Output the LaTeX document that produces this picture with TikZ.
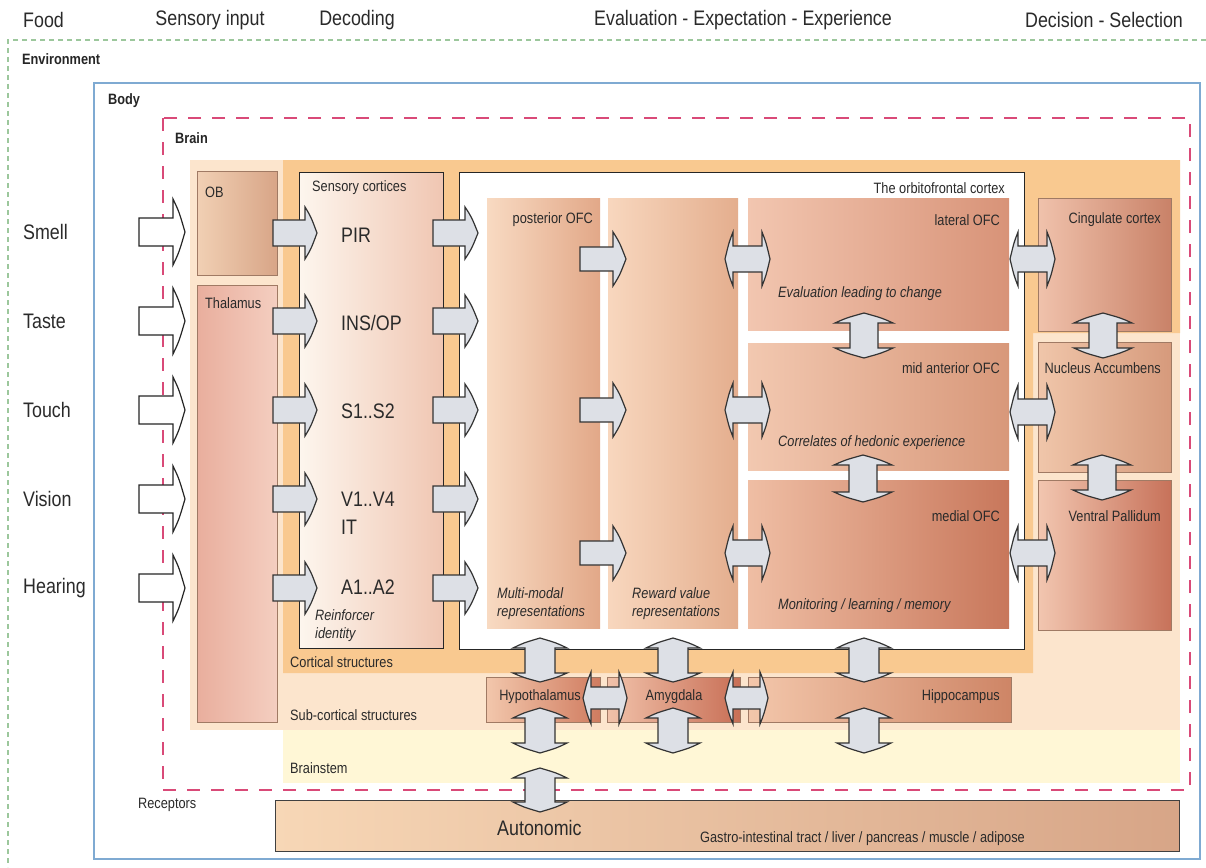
\documentclass[tikz,border=0pt]{standalone}
\usepackage{fontspec}
\setmainfont{Liberation Sans}[FakeStretch=0.85]
\definecolor{envgreen}{HTML}{9CC79C}
\definecolor{bodyblue}{HTML}{7FAAD2}
\definecolor{brainred}{HTML}{D94A78}
\definecolor{subc}{HTML}{FCE5CD}
\definecolor{cort}{HTML}{F9C990}
\definecolor{bstem}{HTML}{FFF7D6}
\definecolor{arrowfill}{HTML}{DDE0E6}
\definecolor{arrowline}{HTML}{333333}
\definecolor{txt}{HTML}{2A2A2A}
\definecolor{boxline}{HTML}{A07A64}
\definecolor{obL}{HTML}{F1D0B4}\definecolor{obR}{HTML}{D8A587}
\definecolor{thL}{HTML}{E9AE9D}\definecolor{thR}{HTML}{F4CEC0}
\definecolor{seL}{HTML}{FDF6EE}\definecolor{seR}{HTML}{F0C6B2}
\definecolor{poL}{HTML}{F8DAC2}\definecolor{poR}{HTML}{E2A888}
\definecolor{rwL}{HTML}{F8D7BE}\definecolor{rwR}{HTML}{E4AE8E}
\definecolor{laL}{HTML}{F2C6B0}\definecolor{laR}{HTML}{D89378}
\definecolor{miL}{HTML}{F2C8B0}\definecolor{miR}{HTML}{D8987A}
\definecolor{meL}{HTML}{EFBEA4}\definecolor{meR}{HTML}{C8775B}
\definecolor{ciL}{HTML}{F0C2AC}\definecolor{ciR}{HTML}{C98268}
\definecolor{naL}{HTML}{F0C6AA}\definecolor{naR}{HTML}{D69A7C}
\definecolor{vpL}{HTML}{F2C6B0}\definecolor{vpR}{HTML}{C7725A}
\definecolor{hyL}{HTML}{F2C7AC}\definecolor{hyR}{HTML}{D07C60}
\definecolor{amL}{HTML}{F1C2AA}\definecolor{amR}{HTML}{C86F56}
\definecolor{hiL}{HTML}{F3C7AB}\definecolor{hiR}{HTML}{CE8566}
\definecolor{auL}{HTML}{F7D7B6}\definecolor{auR}{HTML}{D7A587}
\newcommand\ArrR[7]{% style, x start, x head base, x tip, y centre, shaft half, head half
  \draw[#1] (#2,{#5-#6}) -- (#3,{#5-#6}) -- (#3,{#5-#7})
    .. controls ({#3+0.5*(#4-#3)},{#5-0.62*#7}) .. (#4,#5)
    .. controls ({#3+0.5*(#4-#3)},{#5+0.62*#7}) .. (#3,{#5+#7})
    -- (#3,{#5+#6}) -- (#2,{#5+#6}) -- cycle;}
\newcommand\ArrLR[8]{% style, left tip, left base, right base, right tip, y, shaft half, head half
  \draw[#1] (#3,{#6-#7}) -- (#4,{#6-#7}) -- (#4,{#6-#8})
    .. controls ({#4+0.5*(#5-#4)},{#6-0.62*#8}) .. (#5,#6)
    .. controls ({#4+0.5*(#5-#4)},{#6+0.62*#8}) .. (#4,{#6+#8})
    -- (#4,{#6+#7}) -- (#3,{#6+#7}) -- (#3,{#6+#8})
    .. controls ({#3-0.5*(#3-#2)},{#6+0.62*#8}) .. (#2,#6)
    .. controls ({#3-0.5*(#3-#2)},{#6-0.62*#8}) .. (#3,{#6-#8}) -- cycle;}
\newcommand\ArrUD[8]{% style, x, top tip, top base, bottom base, bottom tip, shaft half, head half
  \draw[#1] ({#2-#7},#4) -- ({#2-#7},#5) -- ({#2-#8},#5)
    .. controls ({#2-0.62*#8},{#5+0.5*(#6-#5)}) .. (#2,#6)
    .. controls ({#2+0.62*#8},{#5+0.5*(#6-#5)}) .. ({#2+#8},#5)
    -- ({#2+#7},#5) -- ({#2+#7},#4) -- ({#2+#8},#4)
    .. controls ({#2+0.62*#8},{#4-0.5*(#4-#3)}) .. (#2,#3)
    .. controls ({#2-0.62*#8},{#4-0.5*(#4-#3)}) .. ({#2-#8},#4) -- cycle;}
\tikzset{
  box/.style={anchor=north west, inner sep=0pt, outer sep=0pt, line width=0.6pt},
  shadetwo/.style 2 args={left color=#1, right color=#2},
  garrow/.style={fill=arrowfill, draw=arrowline, line width=1.2pt, line join=miter},
  warrow/.style={fill=white, draw=black!85, line width=1.2pt, line join=miter},
  big/.style={inner sep=0pt, font=\fontsize{21}{25}\selectfont, text=txt},
  small/.style={inner sep=0pt, font=\fontsize{15}{18}\selectfont, text=txt},
  ital/.style={inner sep=0pt, font=\fontsize{15}{18}\selectfont\itshape, text=txt, align=left},
  bold/.style={inner sep=0pt, font=\fontsize{15}{18}\selectfont\bfseries, text=black!85},
}
\begin{document}
\begin{tikzpicture}[x=1pt,y=-1pt]
\useasboundingbox (0,0) rectangle (1206,867);
\fill[white] (0,0) rectangle (1206,867);
% headers
\node[big, anchor=west] (hfood) at (23,20) {Food};
\node[big] (hsens) at (210,20) {Sensory input};
\node[big] (hdec) at (357,20) {Decoding};
\node[big] (heval) at (743,20) {Evaluation - Expectation - Experience};
\node[big] (hdeci) at (1104,20) {Decision - Selection};
% environment / body / brain
\draw[envgreen, line width=1.1pt, dash pattern=on 5pt off 4pt] (1206,40) -- (8,40) -- (8,867);
\node[bold, anchor=west] (lenv) at (22,59) {Environment};
\draw[bodyblue, line width=1.6pt] (94,83) rectangle (1200,859);
\node[bold, anchor=west] (lbody) at (108,101) {Body};
% regions
\fill[subc] (190,160) rectangle (1180,730);
\fill[bstem] (283,730) rectangle (1180,783);
\fill[cort] (283,160) -- (1180,160) -- (1180,333) -- (1033,333) -- (1033,673) -- (283,673) -- cycle;
\draw[brainred, line width=1.5pt, dash pattern=on 13pt off 11pt] (163,118) rectangle (1190,790);
\node[bold, anchor=west] (lbrain) at (175,138) {Brain};
\node[small, anchor=west] (lcort) at (290,662) {Cortical structures};
\node[small, anchor=west] (lsubc) at (290,715) {Sub-cortical structures};
\node[small, anchor=west] (lbstem) at (290,768) {Brainstem};
\node[small, anchor=west] (lrec) at (138,805) {Receptors};
% senses
\node[big, anchor=west] (smell) at (23,232) {Smell};
\node[big, anchor=west] (taste) at (23,321) {Taste};
\node[big, anchor=west] (touch) at (23,410) {Touch};
\node[big, anchor=west] (vision) at (23,499) {Vision};
\node[big, anchor=west] (hearing) at (23,588) {Hearing};
% boxes
\node[box, draw=boxline, shadetwo={obL}{obR}, minimum width=80pt, minimum height=104pt] (ob) at (197,171) {};
\node[box, draw=boxline, shadetwo={thL}{thR}, minimum width=80pt, minimum height=437pt] (thal) at (197,285) {};
\node[box, draw=black!85, line width=0.8pt, shadetwo={seL}{seR}, minimum width=144pt, minimum height=476pt] (sens) at (299,172) {};
\node[box, draw=black!85, line width=0.8pt, fill=white, minimum width=565pt, minimum height=477pt] (ofc) at (459,172) {};
\node[box, shadetwo={poL}{poR}, minimum width=113pt, minimum height=430pt] (post) at (487,198) {};
\node[box, shadetwo={rwL}{rwR}, minimum width=130pt, minimum height=430pt] (rew) at (608,198) {};
\node[box, shadetwo={laL}{laR}, minimum width=261pt, minimum height=132pt] (lat) at (748,198) {};
\node[box, shadetwo={miL}{miR}, minimum width=261pt, minimum height=127pt] (mid) at (748,343) {};
\node[box, shadetwo={meL}{meR}, minimum width=261pt, minimum height=148pt] (med) at (748,480) {};
\node[box, draw=boxline, shadetwo={ciL}{ciR}, minimum width=133pt, minimum height=133pt] (cing) at (1038,198) {};
\node[box, draw=boxline, shadetwo={naL}{naR}, minimum width=133pt, minimum height=130pt] (nacc) at (1038,342) {};
\node[box, draw=boxline, shadetwo={vpL}{vpR}, minimum width=133pt, minimum height=150pt] (vp) at (1038,480) {};
\node[box, draw=boxline, shadetwo={hyL}{hyR}, minimum width=114pt, minimum height=45pt] (hypo) at (486,677) {};
\node[box, draw=boxline, shadetwo={amL}{amR}, minimum width=133pt, minimum height=45pt] (amy) at (607,677) {};
\node[box, draw=boxline, shadetwo={hiL}{hiR}, minimum width=263pt, minimum height=45pt] (hipp) at (748,677) {};
\node[box, draw=black!75, line width=1pt, shadetwo={auL}{auR}, minimum width=904pt, minimum height=51pt] (auto) at (275,800) {};
% box labels
\node[small, anchor=west] (lob) at (205,192) {OB};
\node[small, anchor=west] (lthal) at (205,303) {Thalamus};
\node[small, anchor=west] (lsens) at (312,188) {Sensory cortices};
\node[big, anchor=west] (pir) at (341,235) {PIR};
\node[big, anchor=west] (ins) at (341,323) {INS/OP};
\node[big, anchor=west] (s1) at (341,411) {S1..S2};
\node[big, anchor=west] (v1) at (341,499) {V1..V4};
\node[big, anchor=west] (it) at (341,527) {IT};
\node[big, anchor=west] (a1) at (341,587) {A1..A2};
\node[ital, anchor=west] (lreinf) at (315,626) {Reinforcer\\identity};
\node[small, anchor=east] (lofc) at (1005,188) {The orbitofrontal cortex};
\node[small, anchor=east] (lpost) at (593,220) {posterior OFC};
\node[small, anchor=east] (llat) at (1000,220) {lateral OFC};
\node[small, anchor=east] (lmid) at (1000,368) {mid anterior OFC};
\node[small, anchor=east] (lmed) at (1000,516) {medial OFC};
\node[ital, anchor=west] (leval) at (778,294) {Evaluation leading to change};
\node[ital, anchor=west] (lhed) at (778,443) {Correlates of hedonic experience};
\node[ital, anchor=west] (lmon) at (778,606) {Monitoring / learning / memory};
\node[ital, anchor=west] (lmulti) at (497,604) {Multi-modal\\representations};
\node[ital, anchor=west] (lrew) at (632,604) {Reward value\\representations};
\node[small, anchor=east] (lcing) at (1161,220) {Cingulate cortex};
\node[small, anchor=east] (lnacc) at (1161,368) {Nucleus Accumbens};
\node[small, anchor=east] (lvp) at (1161,516) {Ventral Pallidum};
\node[small] (lhypo) at (540,697) {Hypothalamus};
\node[small] (lamy) at (674,697) {Amygdala};
\node[small, anchor=east] (lhipp) at (1000,697) {Hippocampus};
\node[big, anchor=west] (lauto) at (497,828) {Autonomic};
\node[small, anchor=west] (lgut) at (700,839) {Gastro-intestinal tract / liver / pancreas / muscle / adipose};
% sensory input arrows
\foreach \yy in {232,321,410,499,588} {\ArrR{warrow}{139}{173}{185}{\yy}{14}{33}}
% OB / thalamus -> sensory cortices
\foreach \yy in {233,321,410,499,588} {\ArrR{garrow}{273}{305}{317}{\yy}{13}{26}}
% sensory cortices -> posterior OFC
\foreach \yy in {233,321,410,499,588} {\ArrR{garrow}{433}{465}{478}{\yy}{13}{26}}
% posterior -> reward
\foreach \yy in {259,410,553} {\ArrR{garrow}{580}{613}{626}{\yy}{12}{27}}
% reward <-> lateral / mid / medial
\foreach \yy in {259,410,553} {\ArrLR{garrow}{725}{733}{762}{770}{\yy}{13}{27}}
% OFC <-> right column
\foreach \yy in {259,412,553} {\ArrLR{garrow}{1010}{1018}{1047}{1055}{\yy}{13}{27}}
% vertical within OFC and right column
\ArrUD{garrow}{864}{313}{323}{348}{358}{14}{29}
\ArrUD{garrow}{863}{455}{465}{492}{502}{14}{29}
\ArrUD{garrow}{1103}{313}{323}{348}{358}{14}{29}
\ArrUD{garrow}{1102}{455}{465}{490}{500}{14}{29}
% OFC <-> subcortical
\foreach \xx in {540,673,864} {\ArrUD{garrow}{\xx}{638}{648}{673}{682}{15}{27}}
\foreach \xx in {540,673,864} {\ArrUD{garrow}{\xx}{708}{718}{743}{753}{15}{27}}
\ArrUD{garrow}{540}{768}{778}{802}{812}{15}{27}
% hypothalamus <-> amygdala <-> hippocampus
\ArrLR{garrow}{583}{591}{619}{627}{698}{11}{26}
\ArrLR{garrow}{725}{733}{760}{768}{698}{11}{26}
\end{tikzpicture}
\end{document}
